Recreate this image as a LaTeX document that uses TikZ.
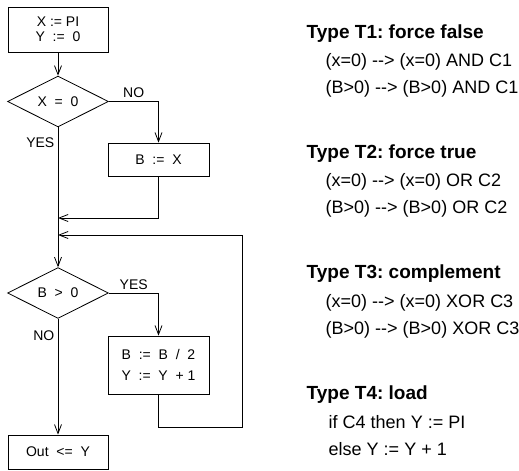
\documentclass[tikz,border=0pt]{standalone}
\usepackage{fontspec}
\setmainfont{Liberation Sans}
\usetikzlibrary{arrows.meta,shapes.geometric}
\frenchspacing

\tikzset{
  flow/.style={font=\fontsize{14bp}{15.5bp}\selectfont},
  box/.style={draw, rectangle, flow, inner sep=0pt, align=center},
  decision/.style={draw, diamond, flow, inner sep=0pt, minimum width=101bp, minimum height=49bp},
  lbl/.style={flow},
  typehead/.style={anchor=base west, font=\fontsize{19bp}{22bp}\selectfont\bfseries},
  typeline/.style={anchor=base west, font=\fontsize{18bp}{22bp}\selectfont},
}

\begin{document}
\begin{tikzpicture}[x=1bp, y=-1bp, >={Straight Barb[length=9bp,width=7bp]}, line width=0.8bp]
\useasboundingbox (0,0) rectangle (519,471);

% flowchart
\node[box, minimum width=100bp, minimum height=45bp] (init) at (58,29.5) {X := PI\\Y~~:=~~0};
\node[decision] (d1) at (58,101.5) {X~~=~~0};
\node[box, minimum width=101bp, minimum height=33bp] (setb) at (158.5,159.5) {B~~:=~~X};
\node[decision] (d2) at (58,293) {B~~>~~0};
\node[box, minimum width=101bp, minimum height=58bp] (upd) at (158.5,365) {B~~:=~~B~~/~~2\\[5.5bp]Y~~:=~~Y~~+ 1};
\node[box, minimum width=100bp, minimum height=34bp] (out) at (58,452) {Out~~<=~~Y};

\coordinate (j1) at (58,218);
\coordinate (j2) at (58,235);
\coordinate (back) at (242,427);

\draw[->] (init) -- (d1);
\draw[->] (d1.east) -| node[pos=0.25, above, lbl] {NO} (setb.north);
\draw[->] (d1.south) -- node[pos=0.113, left, lbl] {YES} (d2.north);
\draw[->] (setb.south) |- (j1);
\draw[->] (d2.east) -| node[pos=0.25, above, lbl] {YES} (upd.north);
\draw[->] (upd.south) |- (back) |- (j2);
\draw[->] (d2.south) -- node[pos=0.145, left, lbl] {NO} (out.north);

% transformation types
\node[typehead] (t1) at (303,38.5) {Type T1: force false};
\node[typeline] (t1a) at (322,67) {(x=0) -{}-{}> (x=0) AND C1};
\node[typeline] (t1b) at (322,94) {(B>0) -{}-{}> (B>0) AND C1};

\node[typehead] (t2) at (303,158.5) {Type T2: force true};
\node[typeline] (t2a) at (322,187) {(x=0) -{}-{}> (x=0) OR C2};
\node[typeline] (t2b) at (322,214) {(B>0) -{}-{}> (B>0) OR C2};

\node[typehead] (t3) at (303,278.5) {Type T3: complement};
\node[typeline] (t3a) at (322,307) {(x=0) -{}-{}> (x=0) XOR C3};
\node[typeline] (t3b) at (322,334) {(B>0) -{}-{}> (B>0) XOR C3};

\node[typehead] (t4) at (303,399.5) {Type T4: load};
\node[typeline] (t4a) at (325,428.5) {if C4 then Y := PI};
\node[typeline] (t4b) at (325,455) {else Y := Y + 1};
\end{tikzpicture}
\end{document}
